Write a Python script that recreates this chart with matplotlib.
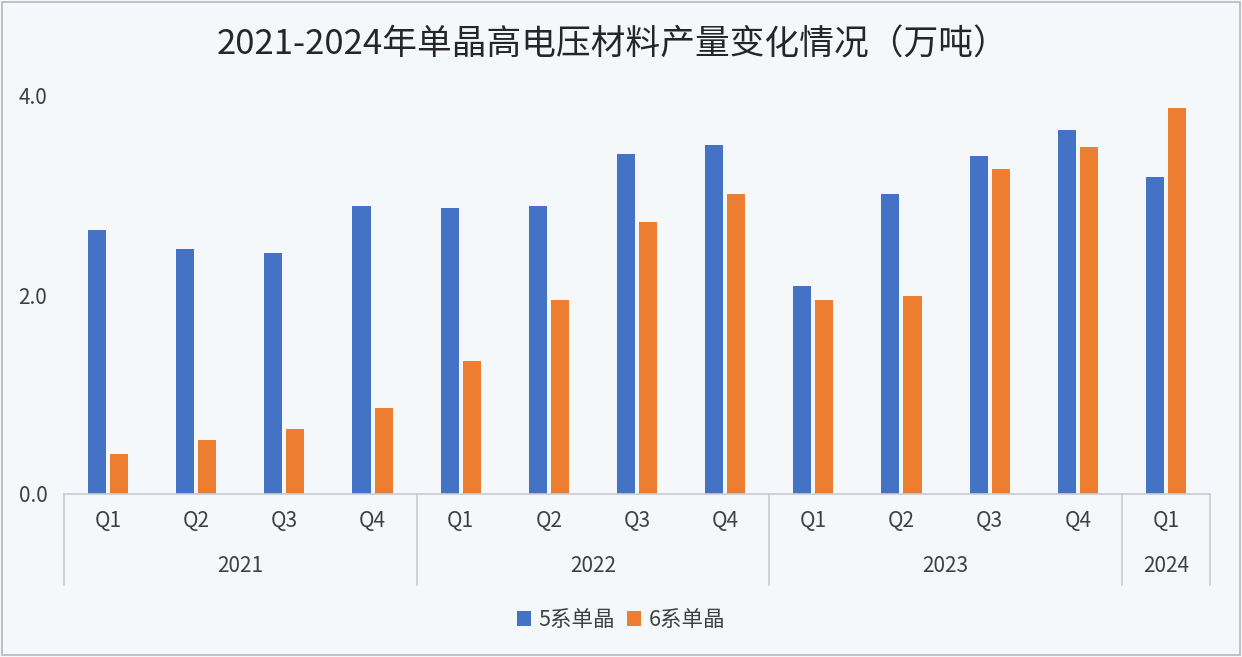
import matplotlib.pyplot as plt
from matplotlib.patches import Rectangle
import numpy as np

plt.rcParams['font.family'] = ['Noto Sans CJK SC', 'DejaVu Sans']

quarters = ['Q1', 'Q2', 'Q3', 'Q4', 'Q1', 'Q2', 'Q3', 'Q4', 'Q1', 'Q2', 'Q3', 'Q4', 'Q1']
years = ['2021', '2022', '2023', '2024']
year_counts = [4, 4, 4, 1]
series_5 = [2.65, 2.46, 2.42, 2.89, 2.87, 2.89, 3.42, 3.51, 2.09, 3.02, 3.40, 3.66, 3.19]
series_6 = [0.40, 0.54, 0.65, 0.86, 1.34, 1.95, 2.73, 3.02, 1.95, 1.99, 3.27, 3.49, 3.88]
y_ticks = [0.0, 2.0, 4.0]

bg = '#f5f8fb'
text_col = '#404040'
line_col = '#c8cbd0'

fig = plt.figure(figsize=(12.42, 6.57), dpi=100)
fig.patch.set_facecolor(bg)
fig.add_artist(Rectangle((0.002, 0.003), 0.996, 0.994, transform=fig.transFigure,
                         fill=False, edgecolor='#b5b8bc', linewidth=1.2))

ax = fig.add_axes([64 / 1242, 1 - 494 / 657, (1210 - 64) / 1242, (494 - 96) / 657])
ax.set_facecolor(bg)

x = np.arange(len(quarters))
w = 0.205
ax.bar(x - 0.125, series_5, width=w, color='#4472c4', label='5系单晶')
ax.bar(x + 0.125, series_6, width=w, color='#ed7d31', label='6系单晶')

ax.set_xlim(-0.5, len(quarters) - 0.5)
ax.set_ylim(0, 4.0)
ax.set_yticks(y_ticks)
ax.set_yticklabels([f'{v:.1f}' for v in y_ticks])
ax.tick_params(axis='y', length=0, pad=12, labelsize=15, labelcolor=text_col)
ax.tick_params(axis='x', length=0, labelbottom=False)
for s in ['top', 'right', 'left']:
    ax.spines[s].set_visible(False)
ax.spines['bottom'].set_color(line_col)
ax.spines['bottom'].set_linewidth(1.2)

# hierarchical category axis
trans = ax.get_xaxis_transform()
for i, q in enumerate(quarters):
    ax.text(i, -0.068, q, transform=trans, ha='center', va='center',
            fontsize=15, color=text_col)

start = 0
bounds = [-0.5]
for yr, n in zip(years, year_counts):
    ax.text(start + (n - 1) / 2, -0.18, yr, transform=trans, ha='center', va='center',
            fontsize=15, color=text_col)
    start += n
    bounds.append(start - 0.5)
for b in bounds:
    ax.plot([b, b], [0, -0.229], transform=trans, color=line_col, linewidth=1.2, clip_on=False)

fig.text(0.493, 1 - 45 / 657, '2021-2024年单晶高电压材料产量变化情况（万吨）',
         ha='center', va='center', fontsize=25, color='#262626')

fig.legend(loc='center', bbox_to_anchor=(0.5, 1 - 620 / 657), ncol=2, frameon=False,
           fontsize=15.5, handlelength=0.65, handleheight=0.65, handletextpad=0.35,
           columnspacing=0.6, labelcolor=text_col)

fig.savefig('out.png', dpi=100, facecolor=bg)
